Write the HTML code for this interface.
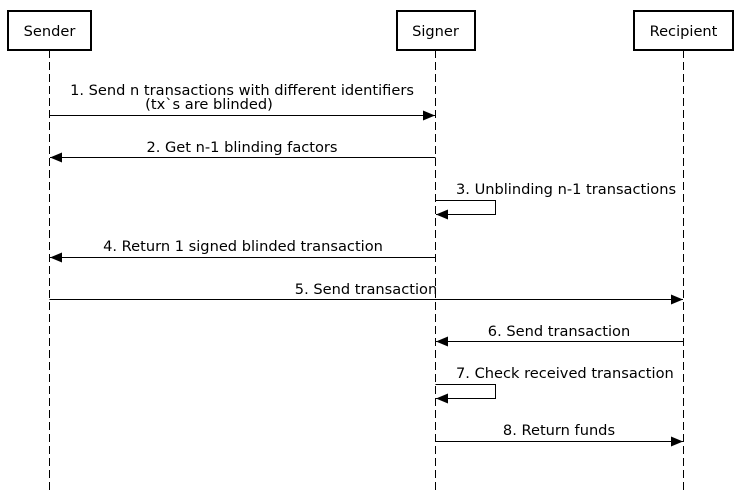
<!DOCTYPE html>
<html><head><meta charset="utf-8"><style>
html,body{margin:0;padding:0;background:#fff;}
svg{display:block;}
text{font-family:"DejaVu Sans","Liberation Sans",sans-serif;font-size:14.6px;fill:#000;}
</style></head><body>
<svg width="740" height="494" viewBox="0 0 740 494" xmlns="http://www.w3.org/2000/svg">
<defs>
<marker id="a" markerWidth="12" markerHeight="10" refX="12" refY="5" orient="auto" markerUnits="userSpaceOnUse">
<path d="M0,0 L12,5 L0,10 z" fill="#000"/>
</marker>
</defs>
<g stroke="#000" stroke-width="1" stroke-dasharray="8,4">
<line x1="49.5" y1="50" x2="49.5" y2="494"/>
<line x1="435.5" y1="50" x2="435.5" y2="494"/>
<line x1="683.5" y1="50" x2="683.5" y2="494"/>
</g>
<g fill="#fff" stroke="#000" stroke-width="2">
<rect x="8" y="11" width="83" height="39"/>
<rect x="397" y="11" width="78" height="39"/>
<rect x="634" y="11" width="99" height="39"/>
</g>
<text x="49.5" y="36" text-anchor="middle">Sender</text>
<text x="435.5" y="36" text-anchor="middle">Signer</text>
<text x="683.5" y="36" text-anchor="middle">Recipient</text>

<g stroke="#000" stroke-width="1" fill="none">
<line x1="49.5" y1="115.5" x2="435" y2="115.5" marker-end="url(#a)"/>
<line x1="435.5" y1="157.5" x2="50" y2="157.5" marker-end="url(#a)"/>
<polyline points="435.5,200.5 495.5,200.5 495.5,214.5 436,214.5" marker-end="url(#a)"/>
<line x1="435.5" y1="257.5" x2="50" y2="257.5" marker-end="url(#a)"/>
<line x1="49.5" y1="299.5" x2="683" y2="299.5" marker-end="url(#a)"/>
<line x1="683.5" y1="341.5" x2="436" y2="341.5" marker-end="url(#a)"/>
<polyline points="435.5,384.5 495.5,384.5 495.5,398.5 436,398.5" marker-end="url(#a)"/>
<line x1="435.5" y1="441.5" x2="683" y2="441.5" marker-end="url(#a)"/>
</g>

<text x="242" y="95" text-anchor="middle">1. Send n transactions with different identifiers</text>
<text x="209" y="109" text-anchor="middle">(tx`s are blinded)</text>
<text x="242" y="152" text-anchor="middle">2. Get n-1 blinding factors</text>
<text x="456" y="194">3. Unblinding n-1 transactions</text>
<text x="243" y="251" text-anchor="middle">4. Return 1 signed blinded transaction</text>
<text x="366" y="294" text-anchor="middle">5. Send transaction</text>
<text x="559" y="336" text-anchor="middle">6. Send transaction</text>
<text x="456" y="378">7. Check received transaction</text>
<text x="559" y="435" text-anchor="middle">8. Return funds</text>
</svg>
</body></html>
